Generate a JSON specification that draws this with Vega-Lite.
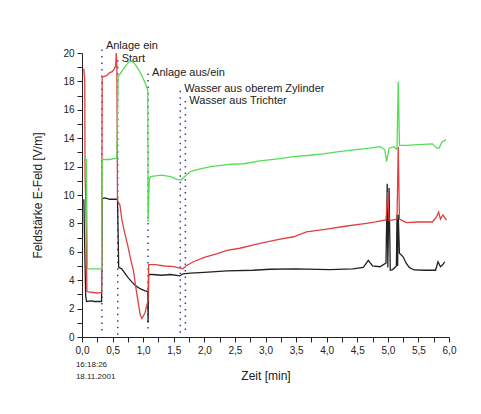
{
  "$schema": "https://vega.github.io/schema/vega-lite/v6.json",
  "autosize": {"type": "none"},
  "padding": {"left": 82, "top": 53, "right": 31, "bottom": 77},
  "width": 367,
  "height": 284,
  "background": "white",
  "config": {
    "view": {"stroke": null},
    "font": "Liberation Sans",
    "axis": {"grid": false, "domainColor": "#222", "tickColor": "#222", "labelColor": "#222", "titleColor": "#222", "labelFont": "Liberation Sans", "titleFont": "Liberation Sans", "labelFontSize": 10, "titleFontSize": 12, "titleFontWeight": "normal"}
  },
  "datasets": {
    "series": [
      {"s": "k", "t": 0.03, "v": 9.7}, {"s": "k", "t": 0.045, "v": 6.2}, {"s": "k", "t": 0.06, "v": 2.9}, {"s": "k", "t": 0.075, "v": 2.5}, {"s": "k", "t": 0.15, "v": 2.55}, {"s": "k", "t": 0.2, "v": 2.5}, {"s": "k", "t": 0.32, "v": 2.5}, {"s": "k", "t": 0.33, "v": 9.75}, {"s": "k", "t": 0.38, "v": 9.8}, {"s": "k", "t": 0.45, "v": 9.7}, {"s": "k", "t": 0.58, "v": 9.7}, {"s": "k", "t": 0.6, "v": 4.9}, {"s": "k", "t": 0.65, "v": 4.8}, {"s": "k", "t": 0.7, "v": 4.5}, {"s": "k", "t": 0.75, "v": 4.2}, {"s": "k", "t": 0.81, "v": 3.9}, {"s": "k", "t": 0.88, "v": 3.6}, {"s": "k", "t": 0.95, "v": 3.4}, {"s": "k", "t": 1.03, "v": 3.25}, {"s": "k", "t": 1.075, "v": 3.2}, {"s": "k", "t": 1.08, "v": 1.0}, {"s": "k", "t": 1.09, "v": 4.4}, {"s": "k", "t": 1.15, "v": 4.4}, {"s": "k", "t": 1.3, "v": 4.35}, {"s": "k", "t": 1.45, "v": 4.4}, {"s": "k", "t": 1.6, "v": 4.3}, {"s": "k", "t": 1.65, "v": 4.45}, {"s": "k", "t": 1.77, "v": 4.5}, {"s": "k", "t": 2.0, "v": 4.55}, {"s": "k", "t": 2.37, "v": 4.65}, {"s": "k", "t": 2.8, "v": 4.7}, {"s": "k", "t": 3.07, "v": 4.77}, {"s": "k", "t": 3.5, "v": 4.8}, {"s": "k", "t": 4.05, "v": 4.75}, {"s": "k", "t": 4.43, "v": 4.8}, {"s": "k", "t": 4.6, "v": 4.9}, {"s": "k", "t": 4.68, "v": 5.4}, {"s": "k", "t": 4.75, "v": 5.0}, {"s": "k", "t": 4.87, "v": 4.95}, {"s": "k", "t": 4.97, "v": 5.2}, {"s": "k", "t": 4.99, "v": 10.8}, {"s": "k", "t": 5.0, "v": 4.9}, {"s": "k", "t": 5.02, "v": 10.5}, {"s": "k", "t": 5.04, "v": 4.7}, {"s": "k", "t": 5.08, "v": 4.75}, {"s": "k", "t": 5.14, "v": 5.0}, {"s": "k", "t": 5.15, "v": 8.6}, {"s": "k", "t": 5.16, "v": 5.0}, {"s": "k", "t": 5.17, "v": 8.6}, {"s": "k", "t": 5.19, "v": 5.9}, {"s": "k", "t": 5.25, "v": 5.65}, {"s": "k", "t": 5.3, "v": 5.2}, {"s": "k", "t": 5.35, "v": 4.9}, {"s": "k", "t": 5.43, "v": 4.72}, {"s": "k", "t": 5.6, "v": 4.7}, {"s": "k", "t": 5.78, "v": 4.7}, {"s": "k", "t": 5.82, "v": 5.3}, {"s": "k", "t": 5.86, "v": 4.95}, {"s": "k", "t": 5.9, "v": 5.1}, {"s": "k", "t": 5.93, "v": 5.3},
      {"s": "r", "t": 0.03, "v": 18.9}, {"s": "r", "t": 0.045, "v": 18.0}, {"s": "r", "t": 0.05, "v": 11.2}, {"s": "r", "t": 0.06, "v": 10.0}, {"s": "r", "t": 0.07, "v": 7.5}, {"s": "r", "t": 0.08, "v": 3.2}, {"s": "r", "t": 0.15, "v": 3.15}, {"s": "r", "t": 0.25, "v": 3.1}, {"s": "r", "t": 0.32, "v": 3.15}, {"s": "r", "t": 0.33, "v": 18.3}, {"s": "r", "t": 0.4, "v": 18.4}, {"s": "r", "t": 0.45, "v": 18.6}, {"s": "r", "t": 0.5, "v": 18.7}, {"s": "r", "t": 0.53, "v": 18.9}, {"s": "r", "t": 0.55, "v": 19.1}, {"s": "r", "t": 0.56, "v": 20.0}, {"s": "r", "t": 0.57, "v": 19.0}, {"s": "r", "t": 0.58, "v": 9.6}, {"s": "r", "t": 0.62, "v": 9.3}, {"s": "r", "t": 0.65, "v": 8.3}, {"s": "r", "t": 0.7, "v": 7.3}, {"s": "r", "t": 0.75, "v": 6.4}, {"s": "r", "t": 0.8, "v": 5.4}, {"s": "r", "t": 0.84, "v": 4.7}, {"s": "r", "t": 0.88, "v": 3.5}, {"s": "r", "t": 0.92, "v": 2.4}, {"s": "r", "t": 0.95, "v": 1.6}, {"s": "r", "t": 0.98, "v": 1.3}, {"s": "r", "t": 1.03, "v": 1.7}, {"s": "r", "t": 1.08, "v": 2.6}, {"s": "r", "t": 1.09, "v": 5.1}, {"s": "r", "t": 1.2, "v": 5.1}, {"s": "r", "t": 1.35, "v": 5.0}, {"s": "r", "t": 1.5, "v": 4.95}, {"s": "r", "t": 1.6, "v": 4.85}, {"s": "r", "t": 1.65, "v": 4.8}, {"s": "r", "t": 1.7, "v": 5.0}, {"s": "r", "t": 1.82, "v": 5.3}, {"s": "r", "t": 2.0, "v": 5.6}, {"s": "r", "t": 2.2, "v": 5.85}, {"s": "r", "t": 2.37, "v": 6.1}, {"s": "r", "t": 2.58, "v": 6.25}, {"s": "r", "t": 2.91, "v": 6.6}, {"s": "r", "t": 3.2, "v": 6.85}, {"s": "r", "t": 3.46, "v": 7.06}, {"s": "r", "t": 3.67, "v": 7.4}, {"s": "r", "t": 4.0, "v": 7.6}, {"s": "r", "t": 4.3, "v": 7.8}, {"s": "r", "t": 4.65, "v": 8.0}, {"s": "r", "t": 4.8, "v": 8.1}, {"s": "r", "t": 4.97, "v": 8.24}, {"s": "r", "t": 5.0, "v": 10.2}, {"s": "r", "t": 5.02, "v": 8.2}, {"s": "r", "t": 5.15, "v": 8.3}, {"s": "r", "t": 5.17, "v": 13.4}, {"s": "r", "t": 5.19, "v": 8.3}, {"s": "r", "t": 5.3, "v": 8.05}, {"s": "r", "t": 5.5, "v": 8.1}, {"s": "r", "t": 5.73, "v": 8.1}, {"s": "r", "t": 5.8, "v": 8.5}, {"s": "r", "t": 5.83, "v": 8.8}, {"s": "r", "t": 5.86, "v": 8.3}, {"s": "r", "t": 5.9, "v": 8.6}, {"s": "r", "t": 5.93, "v": 8.4}, {"s": "r", "t": 5.96, "v": 8.24},
      {"s": "g", "t": 0.03, "v": 12.6}, {"s": "g", "t": 0.07, "v": 12.5}, {"s": "g", "t": 0.08, "v": 8.5}, {"s": "g", "t": 0.09, "v": 4.8}, {"s": "g", "t": 0.2, "v": 4.8}, {"s": "g", "t": 0.32, "v": 4.8}, {"s": "g", "t": 0.33, "v": 12.5}, {"s": "g", "t": 0.45, "v": 12.5}, {"s": "g", "t": 0.57, "v": 12.6}, {"s": "g", "t": 0.59, "v": 18.3}, {"s": "g", "t": 0.65, "v": 18.7}, {"s": "g", "t": 0.7, "v": 19.0}, {"s": "g", "t": 0.75, "v": 19.3}, {"s": "g", "t": 0.81, "v": 19.45}, {"s": "g", "t": 0.87, "v": 19.2}, {"s": "g", "t": 0.93, "v": 18.8}, {"s": "g", "t": 1.0, "v": 18.2}, {"s": "g", "t": 1.05, "v": 17.7}, {"s": "g", "t": 1.075, "v": 17.4}, {"s": "g", "t": 1.08, "v": 8.1}, {"s": "g", "t": 1.1, "v": 11.0}, {"s": "g", "t": 1.12, "v": 11.3}, {"s": "g", "t": 1.2, "v": 11.35}, {"s": "g", "t": 1.3, "v": 11.4}, {"s": "g", "t": 1.45, "v": 11.3}, {"s": "g", "t": 1.55, "v": 11.1}, {"s": "g", "t": 1.62, "v": 11.05}, {"s": "g", "t": 1.68, "v": 11.3}, {"s": "g", "t": 1.77, "v": 11.65}, {"s": "g", "t": 1.9, "v": 11.8}, {"s": "g", "t": 2.1, "v": 12.0}, {"s": "g", "t": 2.4, "v": 12.15}, {"s": "g", "t": 2.64, "v": 12.2}, {"s": "g", "t": 2.91, "v": 12.4}, {"s": "g", "t": 3.2, "v": 12.55}, {"s": "g", "t": 3.46, "v": 12.7}, {"s": "g", "t": 3.73, "v": 12.8}, {"s": "g", "t": 3.94, "v": 12.9}, {"s": "g", "t": 4.2, "v": 13.05}, {"s": "g", "t": 4.48, "v": 13.2}, {"s": "g", "t": 4.7, "v": 13.3}, {"s": "g", "t": 4.87, "v": 13.4}, {"s": "g", "t": 4.95, "v": 13.2}, {"s": "g", "t": 4.98, "v": 12.35}, {"s": "g", "t": 5.02, "v": 13.3}, {"s": "g", "t": 5.1, "v": 13.4}, {"s": "g", "t": 5.15, "v": 13.2}, {"s": "g", "t": 5.17, "v": 18.0}, {"s": "g", "t": 5.19, "v": 13.5}, {"s": "g", "t": 5.3, "v": 13.5}, {"s": "g", "t": 5.5, "v": 13.55}, {"s": "g", "t": 5.73, "v": 13.6}, {"s": "g", "t": 5.8, "v": 13.3}, {"s": "g", "t": 5.84, "v": 13.3}, {"s": "g", "t": 5.88, "v": 13.7}, {"s": "g", "t": 5.95, "v": 13.9}
    ],
    "events": [
      {"x": 0.325, "top": 20.6, "bottom": 0.45, "label": "Anlage ein", "ly": 20.5},
      {"x": 0.584, "top": 19.8, "bottom": 0.15, "label": "Start", "ly": 19.55},
      {"x": 1.08, "top": 18.8, "bottom": 0.6, "label": "Anlage aus/ein", "ly": 18.57},
      {"x": 1.607, "top": 17.4, "bottom": 0.3, "label": "Wasser aus oberem Zylinder", "ly": 17.5},
      {"x": 1.69, "top": 16.8, "bottom": 0.5, "label": "Wasser aus Trichter", "ly": 16.6}
    ],
    "stamp": [
      {"x": -0.1, "y": -2.0, "text": "16:18:26"},
      {"x": -0.1, "y": -2.8, "text": "18.11.2001"}
    ]
  },
  "encoding": {
    "x": {"type": "quantitative", "scale": {"domain": [0, 6], "nice": false, "zero": false},
      "axis": {"values": [0,0.25,0.5,0.75,1,1.25,1.5,1.75,2,2.25,2.5,2.75,3,3.25,3.5,3.75,4,4.25,4.5,4.75,5,5.25,5.5,5.75,6],
        "labelOverlap": false,
        "labelExpr": "(datum.value * 2) % 1 == 0 ? replace(format(datum.value, '.1f'), '.', ',') : ''",
        "tickSize": 5,
        "labelPadding": 3, "title": "Zeit [min]", "titlePadding": 15, "labelFlush": false}},
    "y": {"type": "quantitative", "scale": {"domain": [0, 20], "nice": false},
      "axis": {"values": [0,1,2,3,4,5,6,7,8,9,10,11,12,13,14,15,16,17,18,19,20],
        "labelOverlap": false,
        "labelExpr": "datum.value % 2 == 0 ? datum.label : ''",
        "tickSize": 5,
        "labelPadding": 3, "title": "Feldstärke E-Feld [V/m]", "titlePadding": 18}}
  },
  "layer": [
    {
      "data": {"name": "events"},
      "mark": {"type": "rule", "color": "#3c3c8c", "strokeWidth": 1.5, "strokeDash": [1.5, 5]},
      "encoding": {
        "x": {"field": "x"},
        "y": {"field": "bottom"},
        "y2": {"field": "top"}
      }
    },
    {
      "data": {"name": "events"},
      "mark": {"type": "text", "align": "left", "baseline": "middle", "dx": 4, "fontSize": 11, "color": "#222"},
      "encoding": {
        "x": {"field": "x"},
        "y": {"field": "ly"},
        "text": {"field": "label"}
      }
    },
    {
      "data": {"name": "stamp"},
      "mark": {"type": "text", "align": "left", "baseline": "middle", "fontSize": 8, "color": "#222"},
      "encoding": {
        "x": {"field": "x"},
        "y": {"field": "y"},
        "text": {"field": "text"}
      }
    },
    {
      "data": {"name": "series"},
      "transform": [{"filter": "datum.s == 'k'"}],
      "mark": {"type": "line", "color": "#222222", "strokeWidth": 1.3},
      "encoding": {"x": {"field": "t"}, "y": {"field": "v"}}
    },
    {
      "data": {"name": "series"},
      "transform": [{"filter": "datum.s == 'r'"}],
      "mark": {"type": "line", "color": "#e04040", "strokeWidth": 1.3},
      "encoding": {"x": {"field": "t"}, "y": {"field": "v"}}
    },
    {
      "data": {"name": "series"},
      "transform": [{"filter": "datum.s == 'g'"}],
      "mark": {"type": "line", "color": "#55dd55", "strokeWidth": 1.3},
      "encoding": {"x": {"field": "t"}, "y": {"field": "v"}}
    }
  ]
}
